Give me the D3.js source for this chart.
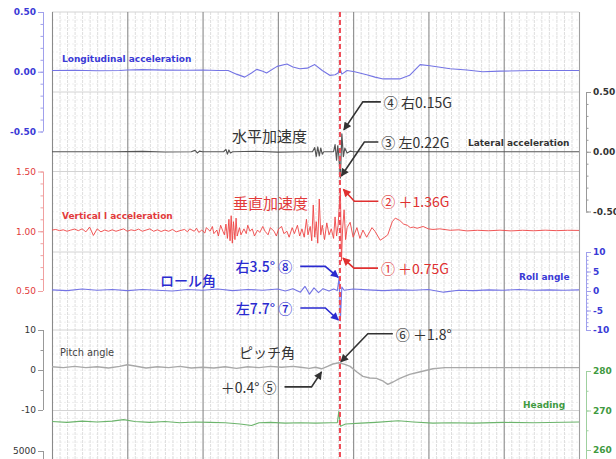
<!DOCTYPE html>
<html><head><meta charset="utf-8">
<script src="https://cdn.jsdelivr.net/npm/d3@7"></script>
<style>
body{margin:0;background:#fff;}
svg{display:block;}
</style></head><body>
<svg id="c" width="616" height="459"></svg>
<script>
// ---------------- DATA ----------------
const timeDomain = [0, 70];          // seconds (7 major divisions)
const eventTime = 38.25;             // red dashed marker

const longitudinal = [[0,0.01],[3,0.012],[6,0.008],[9,0.01],[10,0.015],[12,0.018],[15,0.014],[18,0.012],[20,0.015],[22,0.01],[23.4,0.01],[24.5,-0.02],[25.6,-0.045],[26.5,-0.01],[27.2,0.02],[28.0,0.005],[28.5,-0.01],[29.9,0.045],[31.2,0.065],[32.0,0.04],[32.9,0.025],[33.9,0.03],[34.9,0.06],[35.9,0.01],[36.9,-0.03],[37.6,-0.025],[38.0,-0.01],[38.25,0.03],[38.5,-0.02],[39.2,0.01],[40.2,0.0],[41.8,-0.025],[42.9,-0.045],[44.0,-0.06],[46.2,-0.06],[47.5,-0.03],[48.9,0.06],[50.2,0.05],[52.9,0.025],[55.1,0.015],[57.2,0.0],[59.5,0.005],[63.9,0.01],[70,0.01]];

const lateral = [[0,0],[8,0],[12,0.003],[15,-0.002],[18.5,0],[19,0.012],[19.3,-0.01],[19.6,0.005],[20,0],[22.8,0],[23.1,0.02],[23.3,-0.02],[23.5,0.015],[23.7,-0.01],[24,0],[27,0.004],[30,-0.003],[33,0],[34.6,0],[34.9,0.035],[35.1,-0.04],[35.3,0.04],[35.5,-0.035],[35.7,0.03],[35.9,-0.02],[36.1,0],[37.4,0],[37.6,0.06],[37.8,-0.07],[37.95,0.05],[38.1,-0.03],[38.3,-0.22],[38.5,0.15],[38.7,-0.04],[38.9,0.03],[39.2,-0.01],[39.6,0.005],[40,0],[70,0]];

const vertical = [[0,1.01],[0.5,1.015],[1,1.005],[1.5,1.012],[2,1.0],[2.5,1.01],[3,1.018],[3.5,1.005],[4,1.02],[4.5,0.995],[5,1.035],[5.5,0.965],[6,1.02],[6.5,0.995],[7,1.01],[7.5,1.0],[8,1.012],[8.5,1.0],[9,1.01],[9.5,1.02],[10,1.0],[10.5,1.012],[11,1.005],[11.5,1.018],[12,1.0],[12.5,1.01],[13,1.02],[13.5,1.0],[14,1.012],[14.5,0.998],[15,1.01],[15.5,1.0],[16,1.015],[16.5,0.995],[17,1.005],[17.6,1.015],[18,0.995],[18.3,1.02],[18.9,1.0],[19.2,1.025],[19.5,0.99],[19.9,1.01],[20.3,0.985],[20.5,1.03],[21.0,1.0],[21.3,1.04],[21.5,0.98],[21.9,1.01],[22.1,0.96],[22.4,1.05],[22.7,1.0],[22.9,0.97],[23.1,1.06],[23.3,0.94],[23.5,1.1],[23.65,0.92],[23.8,1.13],[23.95,0.9],[24.1,1.08],[24.3,0.93],[24.45,1.11],[24.6,0.96],[24.9,1.03],[25.1,0.97],[25.5,1.02],[25.8,0.98],[26.0,1.05],[26.3,1.0],[26.6,1.02],[26.9,0.96],[27.3,1.01],[27.6,0.99],[28.0,1.04],[28.3,1.0],[28.7,0.97],[29.0,1.03],[29.5,1.0],[29.8,0.96],[30.1,1.02],[30.5,1.04],[30.8,0.98],[31.2,1.0],[31.5,0.95],[31.9,1.03],[32.2,0.98],[32.6,1.05],[32.9,0.96],[33.2,1.02],[33.5,0.95],[33.8,1.1],[34.0,0.97],[34.3,1.04],[34.5,0.92],[34.7,1.22],[34.9,0.95],[35.1,1.08],[35.3,0.9],[35.5,1.27],[35.7,0.97],[35.9,1.05],[36.2,0.93],[36.5,1.07],[36.8,0.97],[37.1,1.02],[37.4,0.94],[37.6,1.12],[37.8,0.96],[38.0,1.05],[38.15,1.2],[38.3,1.36],[38.45,0.75],[38.6,1.02],[38.8,1.18],[39.0,0.93],[39.2,1.03],[39.6,1.075],[40.0,0.95],[40.5,1.03],[40.9,0.94],[41.3,1.01],[41.8,0.95],[42.5,1.03],[42.9,1.0],[43.6,0.925],[44.2,0.95],[44.6,0.97],[45.2,1.08],[45.6,1.11],[46.2,1.09],[46.7,1.06],[47.2,1.05],[47.6,1.03],[48.0,1.035],[48.5,1.025],[49.3,1.04],[50.0,1.02],[50.6,1.015],[51.5,1.02],[52.9,1.008],[54,1.012],[55.1,1.003],[56.5,1.008],[58,1.004],[59.5,1.009],[61,1.003],[62.5,1.008],[64,1.004],[65.5,1.009],[67,1.005],[68.5,1.008],[70,1.007]];

const roll = [[0,0.3],[2,0.1],[4,0.5],[6,0.2],[8,0.4],[10,0.1],[12,0.4],[14,0.2],[16,0.0],[18,0.4],[20,0.2],[22,0.5],[24,0.1],[26,0.4],[28,0.2],[30,0.5],[31,0.0],[32,0.6],[33,-0.3],[33.6,1.2],[34.2,-0.8],[34.8,0.8],[35.4,-0.4],[36,0.6],[36.8,0.0],[37.4,0.5],[37.9,0.1],[38.15,3.5],[38.3,-7.7],[38.5,1.0],[38.8,0.2],[40,0.5],[42,0.3],[44,0.1],[46,0.3],[48,0.2],[50,0.4],[52,-0.3],[54,0.2],[56,0.1],[58,0.3],[60,0.2],[62,0.4],[64,0.2],[66,0.3],[68,0.2],[70,0.3]];

const pitch = [[0,0.8],[1.5,0.6],[3,0.9],[4.5,0.6],[6,0.8],[7.5,0.5],[9,0.9],[10,1.3],[11,1.0],[12.5,0.5],[14,0.8],[15.5,0.6],[17,0.9],[18.5,0.5],[20,0.7],[21.5,0.5],[23,0.8],[24.5,0.4],[26,0.8],[27.5,0.6],[29,0.9],[30.5,0.7],[32,0.9],[33,0.7],[34.2,0.4],[35,0.7],[35.8,0.3],[36.6,0.9],[37.3,1.5],[38.1,1.8],[38.9,1.4],[39.6,0.9],[40.5,-0.5],[41.3,-1.6],[42.2,-2.0],[43.1,-2.1],[44.0,-2.8],[44.6,-3.6],[45.3,-3.0],[46.2,-2.1],[47.5,-1.1],[48.8,-0.5],[50.6,0.3],[52.2,0.6],[55,0.6],[60,0.6],[65,0.6],[70,0.6]];

const heading = [[0,267.2],[2,267.0],[4,267.3],[6,267.1],[8,267.3],[9.5,267.7],[11,267.2],[13,267.0],[15,267.2],[17,266.9],[19,267.1],[21,267.0],[23,266.9],[25,266.6],[26.5,266.2],[27.5,266.9],[29,267.0],[31,266.8],[33,266.9],[35,266.8],[37,266.9],[37.9,266.9],[38.1,269.8],[38.3,266.0],[39,266.6],[41,266.8],[43,267.0],[46,267.4],[48,267.1],[50.6,266.8],[53,266.9],[56,266.8],[60,267.0],[64,266.9],[70,267.1]];

// tick values / labels
const longTicks = [-0.5, 0, 0.5],  longLabels = ["-0.50","0.00","0.50"];
const latTicks  = [-0.5, 0, 0.5],  latLabels  = ["-0.50","0.00","0.50"];
const vertTicks = [0.5, 1.0, 1.5], vertLabels = ["0.50","1.00","1.50"];
const rollTicks = [-10,-5,0,5,10], rollLabels = ["-10","-5","0","5","10"];
const pitchTicks = [-10,0,10],     pitchLabels = ["-10","0","10"];
const headTicks = [260,270,280],   headLabels = ["260","270","280"];
const altTicks = [5000],           altLabels = ["5000"];

// annotations: value points they refer to
const annotations = [
  {sym:"④", text:"④ 右0.15G", t:38.5, v:0.15, axis:"lat"},
  {sym:"③", text:"③ 左0.22G", t:38.3, v:-0.22, axis:"lat"},
  {sym:"②", text:"② ＋1.36G", t:38.3, v:1.36, axis:"vert"},
  {sym:"①", text:"① ＋0.75G", t:38.45, v:0.75, axis:"vert"},
  {sym:"⑧", text:"右3.5° ⑧", t:38.15, v:3.5, axis:"roll"},
  {sym:"⑦", text:"左7.7° ⑦", t:38.3, v:-7.7, axis:"roll"},
  {sym:"⑤", text:"＋0.4° ⑤", t:35.8, v:0.4, axis:"pitch"},
  {sym:"⑥", text:"⑥ ＋1.8°", t:38.1, v:1.8, axis:"pitch"}
];

// ---------------- LAYOUT / STYLE ----------------
const svg = d3.select('#c');
const PL = 52, PR = 579, PT = 12, PB = 459;
const x = d3.scaleLinear().domain(timeDomain).range([PL, PR]);
const yLong  = d3.scaleLinear().domain([-0.5,0.5]).range([131.5,12]);
const yLat   = d3.scaleLinear().domain([-0.5,0.5]).range([211.5,92]);
const yVert  = d3.scaleLinear().domain([0.5,1.5]).range([291,171.5]);
const yRoll  = d3.scaleLinear().domain([-10,10]).range([330,252]);
const yPitch = d3.scaleLinear().domain([-10,10]).range([410,330]);
const yHead  = d3.scaleLinear().domain([260,280]).range([450,371]);
const yAlt   = d3.scaleLinear().domain([4000,5000]).range([530,451]);
const scales = {long:yLong, lat:yLat, vert:yVert, roll:yRoll, pitch:yPitch, head:yHead};

const C = {
  blue:"#3a3ad6", blueLine:"#7474e4", blueAxis:"#a0a0ec",
  red:"#e23a3a", redLine:"#ee4444", redAxis:"#f0a0a0",
  dark:"#333", latLine:"#555", grayAxis:"#999",
  pitchLine:"#a8a8a8",
  green:"#3f9a3f", greenLine:"#6cb46c", greenAxis:"#9fd09f"
};

// ---------------- GRID ----------------
const grid = svg.append('g');
const minorT = d3.range(timeDomain[0], timeDomain[1]+0.001, 1);
const majorT = d3.range(timeDomain[0], timeDomain[1]+0.001, 10);
const hMajor = [yLong(0.5), yLat(0.5), yVert(1.5), yRoll(10), yRoll(-10), yHead(270), yHead(250)];
const hMinor = [];
for (let i=0;i<hMajor.length-1;i++){
  for (let k=1;k<10;k++) hMinor.push(hMajor[i] + (hMajor[i+1]-hMajor[i])*k/10);
}
grid.selectAll('.hmin').data(hMinor).enter().append('line')
  .attr('x1',PL).attr('x2',PR).attr('y1',d=>d).attr('y2',d=>d)
  .attr('stroke','#efefef').attr('stroke-width',1).attr('stroke-dasharray','2,2');
grid.selectAll('.vmin').data(minorT.filter(t=>t%10!==0)).enter().append('line')
  .attr('x1',d=>x(d)+0.5).attr('x2',d=>x(d)+0.5).attr('y1',PT).attr('y2',PB)
  .attr('stroke','#dedede').attr('stroke-width',1).attr('stroke-dasharray','3,1');
grid.selectAll('.hmaj').data(hMajor).enter().append('line')
  .attr('x1',PL).attr('x2',PR).attr('y1',d=>d).attr('y2',d=>d)
  .attr('stroke','#d4d4d4').attr('stroke-width',1);
grid.selectAll('.vmaj').data(majorT).enter().append('line')
  .attr('x1',d=>x(d)+0.5).attr('x2',d=>x(d)+0.5).attr('y1',PT).attr('y2',PB)
  .attr('stroke',(d,i)=> (i===majorT.length-1)?'#a0a0a0':'#8a8a8a').attr('stroke-width',1.1);

// ---------------- AXES ----------------
function drawAxis(scale, side, ticks, labels, minors, labelColor, lineColor, bold, extent){
  const ax = side==='left'?43:586;
  const g = svg.append('g').attr('transform',`translate(${ax},0)`);
  const mk = side==='left'?d3.axisLeft:d3.axisRight;
  const minorAxis = mk(scale).tickValues(minors).tickSize(2.5).tickFormat('').tickSizeOuter(0);
  const gm = g.append('g').call(minorAxis);
  gm.select('.domain').remove();
  gm.selectAll('line').attr('stroke',lineColor);
  const a = mk(scale).tickValues(ticks).tickFormat((d,i)=>labels[i]).tickSize(5).tickSizeOuter(0).tickPadding(2);
  const ga = g.append('g').call(a);
  ga.select('.domain').remove();
  ga.selectAll('line').attr('stroke',lineColor);
  ga.selectAll('text').attr('fill',labelColor)
    .attr('font-family','DejaVu Sans, Verdana, sans-serif')
    .attr('font-size',9).attr('font-weight',bold?'bold':'normal');
  g.append('line').attr('x1',0.5).attr('x2',0.5)
    .attr('y1',extent?extent[0]:scale.range()[1]).attr('y2',extent?extent[1]:scale.range()[0])
    .attr('stroke',lineColor).attr('stroke-width',1);
}
drawAxis(yLong,'left',longTicks,longLabels,d3.range(-0.5,0.501,0.1),C.blue,C.blueAxis,true);
drawAxis(yVert,'left',vertTicks,vertLabels,d3.range(0.5,1.501,0.1),C.red,C.redAxis,false);
drawAxis(yPitch,'left',pitchTicks,pitchLabels,d3.range(-10,10.01,5),C.dark,C.grayAxis,false);
drawAxis(yAlt,'left',altTicks,altLabels,[],C.dark,C.grayAxis,false,[451,460]);
drawAxis(yLat,'right',latTicks,latLabels,d3.range(-0.5,0.501,0.1),C.dark,C.grayAxis,true);
drawAxis(yRoll,'right',rollTicks,rollLabels,d3.range(-10,10.01,1),C.blue,C.blueAxis,true);
drawAxis(yHead,'right',headTicks,headLabels,d3.range(260,280.01,5),C.green,C.greenAxis,true,[371,460]);

// ---------------- SERIES ----------------
function series(data, yS, color, w){
  const line = d3.line().x(d=>x(d[0])).y(d=>yS(d[1]));
  svg.append('path').datum(data).attr('d',line)
    .attr('fill','none').attr('stroke',color).attr('stroke-width',w||1.1)
    .attr('stroke-linejoin','round');
}
series(heading, yHead, C.greenLine);
series(pitch, yPitch, C.pitchLine, 1.4);
series(roll, yRoll, C.blueLine);
series(vertical, yVert, C.redLine, 0.9);
series(lateral, yLat, C.latLine, 1.2);
series(longitudinal, yLong, C.blueLine);

// event marker
svg.append('line').attr('x1',x(eventTime)).attr('x2',x(eventTime))
  .attr('y1',PT).attr('y2',PB).attr('stroke','#ef4a55')
  .attr('stroke-width',2).attr('stroke-dasharray','5,3');

// ---------------- LABELS ----------------
const en = (txt, px, py, color, opt={}) => svg.append('text').text(txt)
  .attr('x',px).attr('y',py).attr('dominant-baseline','middle')
  .attr('font-family','DejaVu Sans, Verdana, sans-serif')
  .attr('font-size',opt.size||9).attr('font-weight',opt.weight||'bold').attr('fill',color);
en('Longitudinal acceleration', 62, 59, C.blue);
en('Lateral acceleration', 468, 143, C.dark);
en('Vertical l acceleration', 62, 216, C.red);
en('Roll angle', 519, 277, C.blue);
en('Pitch angle', 60, 353, '#444', {size:9.8, weight:'normal'});
en('Heading', 523, 405, C.green);

const jp = (txt, px, py, color, size, anchor, weight) => svg.append('text').text(txt)
  .attr('x',px).attr('y',py).attr('dominant-baseline','central')
  .attr('text-anchor',anchor||'start')
  .attr('font-family','"Noto Sans CJK JP", "Noto Sans CJK SC", sans-serif')
  .attr('font-weight',weight||'normal')
  .attr('font-size',size).attr('fill',color);
jp('水平加速度', 232, 135, '#333', 15);
jp('垂直加速度', 233, 202, C.red, 15);
jp('ロール角', 160, 280, '#2a2ad0', 14, 'start', '500');
jp('ピッチ角', 239, 352, '#333', 14);

// ---------------- ANNOTATION LEADERS ----------------
const defs = svg.append('defs');
[['k','#333'],['r','#e03030'],['b','#2a2ad0']].forEach(([id,col])=>{
  defs.append('marker').attr('id','ah'+id).attr('viewBox','0 0 10 10')
    .attr('refX',9).attr('refY',5).attr('markerWidth',9).attr('markerHeight',8)
    .attr('markerUnits','userSpaceOnUse').attr('orient','auto')
    .append('path').attr('d','M0,0 L10,5 L0,10 z').attr('fill',col);
});
// leader geometry relative to tip (pixels)
const leaderStyle = {
  "④":{off:[2,-4], elbow:[19,-28], end:37, col:'k'},
  "③":{off:[1,-2], elbow:[23,-34], end:37, col:'k'},
  "②":{off:[3,1],  elbow:[11,12],  end:35, col:'r'},
  "①":{off:[1.5,-3], elbow:[11,10], end:35, col:'r'},
  "⑧":{off:[-1,0], elbow:[-13,-11], end:-38, col:'b'},
  "⑦":{off:[-2,-1], elbow:[-13,-12], end:-38, col:'b'},
  "⑤":{off:[0,3.5], elbow:[-10,15], end:-37, col:'k'},
  "⑥":{off:[2,-1], elbow:[27,-28], end:52, col:'k'}
};
const colMap = {k:'#333', r:'#e03030', b:'#2a2ad0'};
annotations.forEach(a=>{
  const s = leaderStyle[a.sym];
  const tx = x(a.t)+s.off[0], ty = scales[a.axis](a.v)+s.off[1];
  const ex = tx+s.elbow[0], ey = ty+s.elbow[1];
  const lx = tx+s.end;
  const col = colMap[s.col];
  svg.append('path').attr('d',`M${lx},${ey} L${ex},${ey} L${tx},${ty}`)
    .attr('fill','none').attr('stroke',col).attr('stroke-width',1.6)
    .attr('marker-end',`url(#ah${s.col})`);
  const right = s.end>0;
  jp(a.text, right?lx+3:lx-8, ey, col, 14, right?'start':'end', s.col==='b'?'500':'normal');
});
</script>
</body></html>
